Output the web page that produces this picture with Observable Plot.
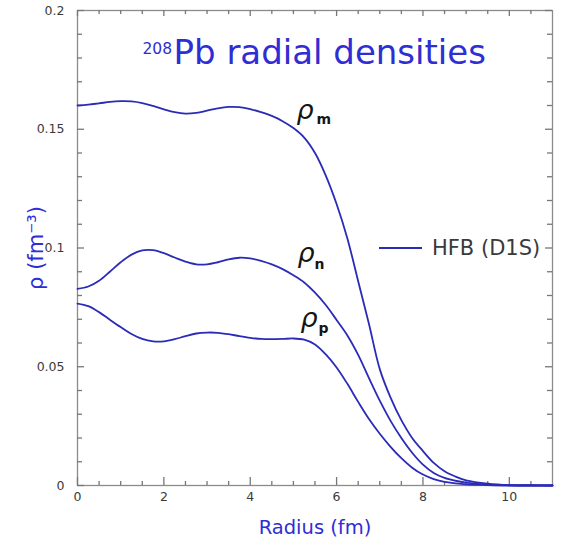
<!DOCTYPE html>
<html><head><meta charset="utf-8">
<script src="https://cdn.jsdelivr.net/npm/d3@7"></script>
<script src="https://cdn.jsdelivr.net/npm/@observablehq/plot@0.6"></script>
<style>body{margin:0;background:#fff;}</style>
</head><body><div id="chart"></div>
<script>
// ---- data ----
const radius = [0,0.25,0.5,0.75,1,1.25,1.5,1.75,2,2.25,2.5,2.75,3,3.25,3.5,3.75,4,4.25,4.5,4.75,5,5.25,5.5,5.75,6,6.25,6.5,6.75,7,7.25,7.5,7.75,8,8.25,8.5,8.75,9,9.5,10,10.5,11];
const rhoM = [.1600,.1604,.1609,.1615,.1618,.1617,.1610,.1598,.1584,.1572,.1566,.1569,.1578,.1588,.1594,.1593,.1585,.1572,.1556,.1534,.1505,.1465,.1400,.1305,.1185,.1040,.0860,.0680,.0490,.0370,.0275,.0200,.0145,.0095,.0060,.0038,.0022,.0008,.0002,.0001,0];
const rhoN = [.0828,.0838,.0862,.0900,.0940,.0972,.0990,.0991,.0978,.0960,.0943,.0931,.0931,.0940,.0952,.0959,.0956,.0946,.0931,.0911,.0885,.0855,.0812,.0760,.0697,.0632,.0550,.0452,.0357,.0272,.0200,.0138,.0088,.0053,.0032,.0020,.0012,.0004,.0001,0,0];
const rhoP = [.0766,.0755,.0730,.0698,.0667,.0638,.0617,.0607,.0607,.0616,.0629,.0640,.0644,.0643,.0637,.0629,.0622,.0617,.0616,.0617,.0619,.0614,.0594,.0552,.0497,.0428,.0352,.0280,.0218,.0163,.0115,.0075,.0046,.0027,.0015,.0009,.0005,.0002,0,0,0];
const seriesNames = ["m","n","p"];
const xMajorTicks = [0,2,4,6,8,10];
const xTickLabels = ["0","2","4","6","8","10"];
const yMajorTicks = [0,0.05,0.1,0.15,0.2];
const yTickLabels = ["0","0.05","0.1","0.15","0.2"];
const xMinorTicks = [0.5,1,1.5,2.5,3,3.5,4.5,5,5.5,6.5,7,7.5,8.5,9,9.5,10.5];
const yMinorTicks = [0.01,0.02,0.03,0.04,0.06,0.07,0.08,0.09,0.11,0.12,0.13,0.14,0.16,0.17,0.18,0.19];
const titleSup = "208";
const titleMain = "Pb radial densities";
const xTitle = "Radius (fm)";
const yTitle = "ρ (fm⁻³)";
const legendLabel = "HFB (D1S)";
const labelRadius = 5;

// ---- styles ----
const W = 562, H = 549, mL = 77, mR = 10, mT = 10, mB = 64;
const frameW = W - mL - mR, frameH = H - mT - mB;
const lineBlue = "#2b2bb8";
const textBlue = "#2e2ed4";
const axisGray = "#8c8c8c";
const tickGray = "#777";
const labelGray = "#3a3a3a";
const labelOffsets = {m:{dx:3,dy:-9,sdx:23,sdy:-4}, n:{dx:4,dy:-13,sdx:21,sdy:-6.5}, p:{dx:7,dy:-11,sdx:25,sdy:-5.5}};

const seriesValues = [rhoM, rhoN, rhoP];
const rows = seriesNames.flatMap((s, k) => radius.map((r, i) => ({r, rho: seriesValues[k][i], s})));
const li = radius.indexOf(labelRadius);

// inward ticks on all four sides
function ticks(values, len, side) {
  const o = {stroke: tickGray, strokeWidth: 1.3};
  if (side === "bottom") return Plot.ruleX(values, {...o, x: d => d, insetTop: frameH - len});
  if (side === "top") return Plot.ruleX(values, {...o, x: d => d, insetBottom: frameH - len});
  if (side === "left") return Plot.ruleY(values, {...o, y: d => d, insetRight: frameW - len});
  return Plot.ruleY(values, {...o, y: d => d, insetLeft: frameW - len});
}

function legendMark(index, scales, values, dims) {
  const R = dims.width - dims.marginRight;
  const cy = (dims.marginTop + dims.height - dims.marginBottom) / 2 + 0.5;
  const g = d3.create("svg:g");
  g.append("line").attr("x1", R - 173).attr("x2", R - 130).attr("y1", cy).attr("y2", cy)
    .attr("stroke", lineBlue).attr("stroke-width", 1.8);
  g.append("text").attr("x", R - 120).attr("y", cy).attr("dy", "0.35em").attr("text-anchor", "start")
    .attr("font-size", 21).attr("fill", labelGray).text(legendLabel);
  return g.node();
}

const labelMarks = seriesNames.flatMap((s, k) => {
  const o = labelOffsets[s];
  const pt = [{r: labelRadius, rho: seriesValues[k][li]}];
  return [
    Plot.text(pt, {x: "r", y: "rho", text: () => "ρ", textAnchor: "start", lineAnchor: "bottom", dx: o.dx, dy: o.dy, fontSize: 27, fontStyle: "italic", fill: "#151515"}),
    Plot.text(pt, {x: "r", y: "rho", text: () => s, textAnchor: "start", lineAnchor: "bottom", dx: o.sdx, dy: o.sdy, fontSize: 14, fontWeight: "bold", fill: "#151515"})
  ];
});

const chart = Plot.plot({
  width: W,
  height: H,
  marginLeft: mL,
  marginRight: mR,
  marginTop: mT,
  marginBottom: mB,
  style: {fontFamily: "DejaVu Sans", background: "#fff", overflow: "visible"},
  x: {domain: [0, 11], axis: null},
  y: {domain: [0, 0.2], axis: null},
  marks: [
    Plot.frame({stroke: axisGray, strokeWidth: 1.3}),
    ticks(xMinorTicks, 4, "bottom"), ticks(xMajorTicks, 8, "bottom"),
    ticks(xMinorTicks, 4, "top"), ticks(xMajorTicks, 6, "top"),
    ticks(yMinorTicks, 5, "left"), ticks(yMajorTicks, 7, "left"),
    ticks(yMinorTicks, 5, "right"), ticks(yMajorTicks, 7, "right"),
    Plot.line(rows, {x: "r", y: "rho", z: "s", stroke: lineBlue, strokeWidth: 1.8, curve: "catmull-rom"}),
    Plot.text(xMajorTicks, {x: d => d, frameAnchor: "bottom", text: (d, i) => xTickLabels[i], textAnchor: "middle", lineAnchor: "bottom", dy: 15, fontSize: 12.5, fill: labelGray}),
    Plot.text(yMajorTicks, {y: d => d, frameAnchor: "left", text: (d, i) => yTickLabels[i], textAnchor: "end", lineAnchor: "middle", dx: -13, fontSize: 12.5, fill: labelGray}),
    Plot.text([xTitle], {frameAnchor: "bottom", textAnchor: "middle", lineAnchor: "bottom", dy: 48, fontSize: 19.5, fill: textBlue}),
    Plot.text([yTitle], {frameAnchor: "left", textAnchor: "middle", rotate: -90, lineAnchor: "middle", dx: -41, fontSize: 21, fill: textBlue}),
    Plot.text([titleMain], {frameAnchor: "top", textAnchor: "start", lineAnchor: "bottom", dx: -141.5, dy: 53, fontSize: 34, fill: textBlue}),
    Plot.text([titleSup], {frameAnchor: "top", textAnchor: "end", lineAnchor: "bottom", dx: -143, dy: 43, fontSize: 15.5, fill: textBlue}),
    ...labelMarks,
    legendMark
  ]
});
document.getElementById("chart").append(chart);
</script>
</body></html>
